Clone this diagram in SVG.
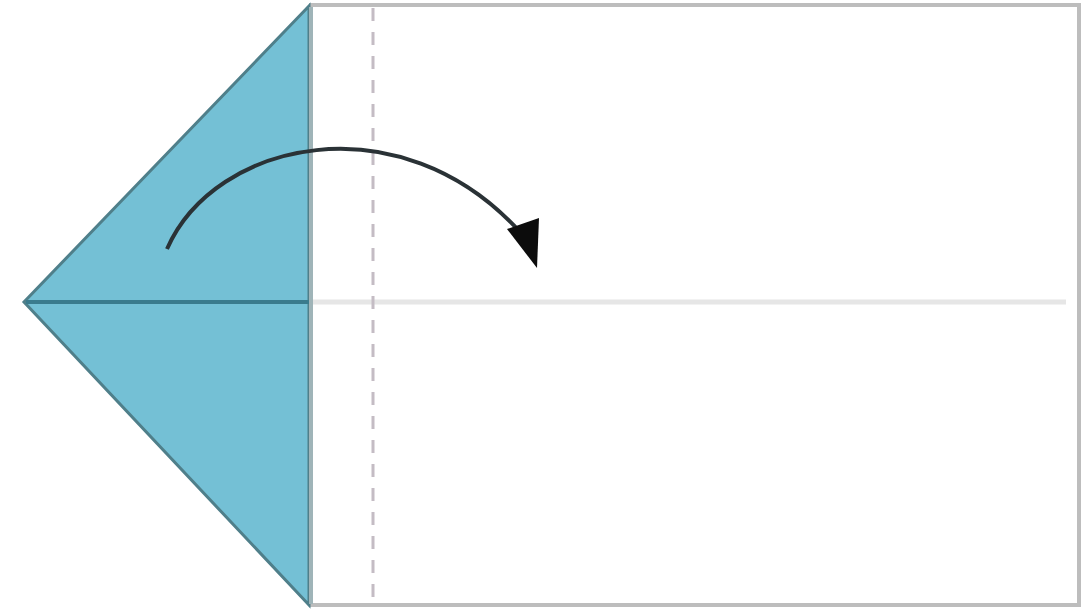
<svg xmlns="http://www.w3.org/2000/svg" width="1083" height="611" viewBox="0 0 1083 611">
<style>
.paper{fill:#ffffff;stroke:#bdbdbd;stroke-width:4}
.flap{fill:#74c0d5;stroke:#4f7f8a;stroke-width:3;stroke-linejoin:miter}
.crease{stroke:#e6e6e6;stroke-width:5;fill:none}
.valley{stroke:#c4bcc4;stroke-width:3;stroke-dasharray:13 11;fill:none}
.arrow{stroke:#2a3236;stroke-width:4;fill:none}
</style>
<rect width="1083" height="611" fill="#ffffff"/>
<g id="paper">
<rect class="paper" x="311" y="5" width="768" height="600"/>
</g>
<g id="crease">
<line class="crease" x1="311" y1="302" x2="1066" y2="302"/>
</g>
<g id="valley-fold">
<line class="valley" x1="373" y1="8" x2="373" y2="602"/>
</g>
<g id="flap">
<polygon class="flap" points="309,6 24,302 309,605"/>
<line x1="26" y1="302" x2="309" y2="302" stroke="#3a7b8d" stroke-width="4"/>
<line x1="311" y1="7" x2="311" y2="604" stroke="#9fb4b8" stroke-width="4"/>
</g>
<g id="connectors">
<path class="arrow" d="M167,249 C215,140 400,100 520,232"/>
<polygon points="507,229 539,218 537,268" fill="#0c0c0c"/>
</g>
</svg>
